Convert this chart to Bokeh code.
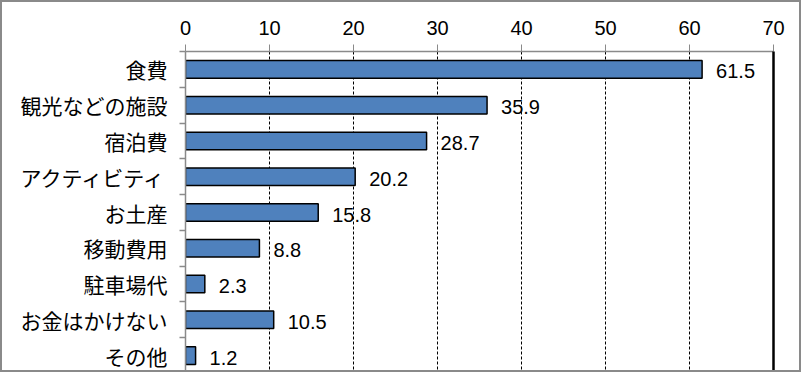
from bokeh.plotting import figure
from bokeh.models import Range1d, FixedTicker, LinearAxis, ColumnDataSource
from bokeh.core.properties import value
from bokeh.embed import file_html
from bokeh.resources import INLINE

categories = ["食費", "観光などの施設", "宿泊費", "アクティビティ", "お土産", "移動費用", "駐車場代", "お金はかけない", "その他"]
values = [61.5, 35.9, 28.7, 20.2, 15.8, 8.8, 2.3, 10.5, 1.2]
x_ticks = [0, 10, 20, 30, 40, 50, 60, 70]

positions = list(range(1, len(categories) + 1))
src = ColumnDataSource(dict(
    y=positions,
    v=values,
    lab=[f"{v:.1f}" for v in values],
))

p = figure(width=801, height=372, output_backend="svg", toolbar_location=None,
           x_range=Range1d(0, 70), y_range=Range1d(len(categories) + 0.5, 0.5),
           x_axis_location="above",
           min_border_left=183, min_border_top=49, min_border_right=30, min_border_bottom=1)
p.styles = {"border": "2px solid #8a8a8a"}
p.outline_line_color = None
p.background_fill_color = "white"
p.border_fill_color = "white"

p.hbar(y="y", right="v", left=0, height=0.49, source=src,
       fill_color="#4F81BD", line_color="black", line_width=1.5)

p.text(x="v", y="y", text="lab", source=src, x_offset=14, y_offset=2,
       text_baseline="middle", text_align="left",
       text_font=value("Liberation Sans"), text_font_size="20px", text_color="black")

# x axis (top)
xa = p.xaxis[0]
xa.ticker = FixedTicker(ticks=x_ticks)
xa.axis_line_color = "#8a8a8a"
xa.axis_line_width = 1.5
xa.major_tick_line_color = "#8a8a8a"
xa.major_tick_out = 7
xa.major_tick_in = 0
xa.minor_tick_line_color = None
xa.major_label_standoff = 10
xa.major_label_text_font = "Liberation Sans"
xa.major_label_text_font_size = "20px"
xa.major_label_text_color = "black"

# y axis (left) with ticks at category boundaries
ya = p.yaxis[0]
ya.ticker = FixedTicker(ticks=positions, minor_ticks=[i + 0.5 for i in range(0, len(categories) + 1)])
ya.major_label_overrides = {pos: cat for pos, cat in zip(positions, categories)}
ya.axis_line_color = "#8a8a8a"
ya.axis_line_width = 1.5
ya.major_tick_line_color = None
ya.major_tick_out = 0
ya.major_tick_in = 0
ya.minor_tick_line_color = "#8a8a8a"
ya.minor_tick_line_width = 1.5
ya.minor_tick_out = 6
ya.minor_tick_in = 0
ya.major_label_standoff = 12
ya.major_label_text_font = "Noto Sans CJK JP"
ya.major_label_text_font_size = "21px"
ya.major_label_text_color = "black"

# right boundary line
ra = LinearAxis(ticker=FixedTicker(ticks=[]), axis_line_color="black", axis_line_width=2.5,
                major_tick_line_color=None, minor_tick_line_color=None)
p.add_layout(ra, "right")

p.xgrid.ticker = FixedTicker(ticks=x_ticks[1:-1])
p.xgrid.grid_line_color = "black"
p.xgrid.grid_line_dash = "3 2"
p.xgrid.grid_line_width = 1
p.ygrid.grid_line_color = None

open("out.html", "w").write(file_html(p, INLINE))
